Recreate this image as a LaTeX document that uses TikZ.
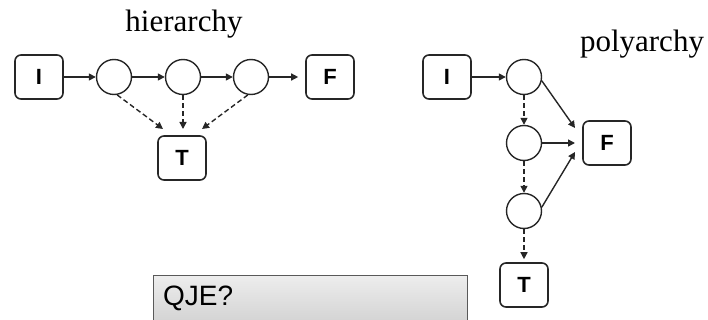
\documentclass[tikz,border=0pt]{standalone}
\usepackage{fontspec}
\setmainfont{Liberation Serif}
\newfontfamily\boxfont{Liberation Sans}
\usetikzlibrary{arrows.meta}
\tikzset{
  lbox/.style={draw=black!85, line width=1.6pt, rounded corners=6pt, minimum width=48pt, minimum height=44pt, inner sep=0pt, font=\boxfont\bfseries\fontsize{22}{26}\selectfont},
  circ/.style={draw=black!85, line width=1.4pt, circle, minimum size=35pt, inner sep=0pt},
  arr/.style={draw=black!85, line width=1.4pt, -{Triangle[length=7pt,width=7pt]}},
  darr/.style={arr, dash pattern=on 5pt off 3pt},
  title/.style={font=\fontsize{31}{36}\selectfont, anchor=base, inner sep=0pt},
}
\begin{document}
\begin{tikzpicture}[x=1pt,y=-1pt]
\useasboundingbox (0,0) rectangle (708,320);
\clip (0,0) rectangle (708,320);
% left: hierarchy
\node[title] (ht) at (184,32) {hierarchy};
\node[lbox] (hI) at (39,77) {I};
\node[circ] (h1) at (114,77) {};
\node[circ] (h2) at (183,77) {};
\node[circ] (h3) at (251,77) {};
\node[lbox] (hF) at (330,77) {F};
\node[lbox] (hT) at (182,158) {T};
\coordinate (ta) at (163,129);
\coordinate (tb) at (183,129);
\coordinate (tc) at (202,129);
\draw[arr] (hI) -- (h1);
\draw[arr] (h1) -- (h2);
\draw[arr] (h2) -- (h3);
\draw[arr, shorten >=7pt] (h3) -- (hF);
\draw[darr] (h1.-80) -- (ta);
\draw[darr] (h2.south) -- (tb);
\draw[darr] (h3.-100) -- (tc);
% right: polyarchy
\node[title] (pt) at (642,52) {polyarchy};
\node[lbox] (pI) at (447,77) {I};
\node[circ] (p1) at (524,77) {};
\node[circ] (p2) at (524,143) {};
\node[circ] (p3) at (524,211) {};
\node[lbox] (pF) at (607,143) {F};
\node[lbox] (pT) at (524,285) {T};
\coordinate (fa) at (575,128);
\coordinate (fb) at (575,143);
\coordinate (fc) at (575,152);
\draw[arr] (pI) -- (p1);
\draw[arr] (p1.-12) -- (fa);
\draw[arr] (p2) -- (fb);
\draw[arr] (p3.12) -- (fc);
\draw[darr] (p1) -- (p2);
\draw[darr] (p2) -- (p3);
\draw[darr, shorten >=3pt] (p3) -- (pT);
% grey box
\node[draw=black!65, line width=0.8pt, top color=black!7, bottom color=black!20, minimum width=314pt, minimum height=60pt, anchor=north west, inner sep=0pt] (q) at (153,275) {};
\node[font=\boxfont\fontsize{28}{32}\selectfont, anchor=base west, inner sep=0pt] (qt) at (163,305) {QJE?};
\end{tikzpicture}
\end{document}
